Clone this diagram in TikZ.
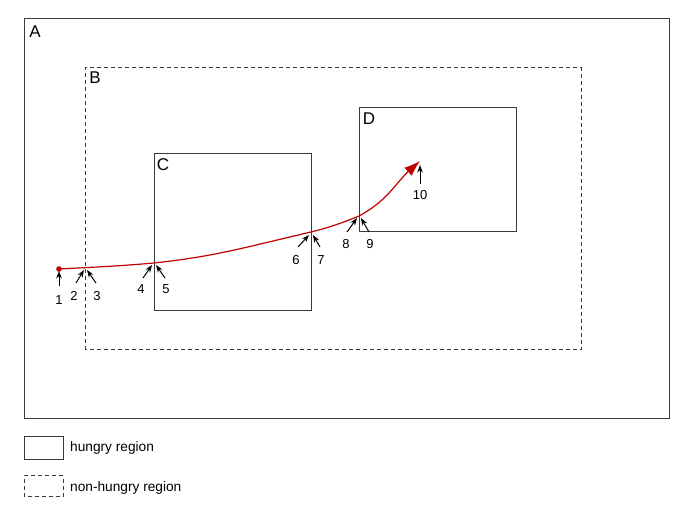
\documentclass[tikz,border=0pt]{standalone}
\usepackage{fontspec}
\setmainfont{Liberation Sans}
\usetikzlibrary{arrows.meta}
\definecolor{pathred}{HTML}{C00000}
\definecolor{boxgray}{HTML}{3A3A3A}
\begin{document}
\begin{tikzpicture}[x=1pt,y=1pt,
  region/.style={draw=boxgray, line width=1pt},
  nonregion/.style={draw=boxgray, line width=1pt, dash pattern=on 4pt off 3pt},
  letter/.style={anchor=center, inner sep=0pt, font=\fontsize{17}{20}\selectfont},
  num/.style={anchor=center, inner sep=0pt, font=\fontsize{13}{15}\selectfont},
  legtext/.style={anchor=west, inner sep=0pt, font=\fontsize{13.7}{16}\selectfont},
  numarrow/.style={draw=black, line width=1pt, -{Stealth[length=7.5pt,width=5.5pt]}},
  track/.style={draw=pathred, line width=1.2pt, -{Latex[length=16pt,width=11pt]}}
]
\useasboundingbox (0,0) rectangle (694,517);
% regions
\draw[region] (24,98) rectangle (669,498);
\draw[nonregion] (85,167) rectangle (581,449);
\draw[region] (154,206) rectangle (311,363);
\draw[region] (359,285) rectangle (516,409);
\node[letter] (lA) at (35,485) {A};
\node[letter] (lB) at (95,439) {B};
\node[letter] (lC) at (163,352) {C};
\node[letter] (lD) at (369,398) {D};
% path
\coordinate (p1) at (59,248);
\coordinate (p4) at (154,254);
\coordinate (p6) at (311,285);
\coordinate (p8) at (359,301);
\coordinate (p10) at (420,356);
\draw[track] (p1) to[out=3,in=185] (p4) to[out=6,in=193] (p6) to[out=14,in=202] (p8) to[out=28,in=222] (p10);
\fill[pathred] (p1) circle (2.8pt);
% labels
\node[num] (n1) at (59,217) {1};
\node[num] (n2) at (74,221) {2};
\node[num] (n3) at (97,221) {3};
\node[num] (n4) at (141,228) {4};
\node[num] (n5) at (166,228) {5};
\node[num] (n6) at (296,257) {6};
\node[num] (n7) at (321,257) {7};
\node[num] (n8) at (346,273) {8};
\node[num] (n9) at (370,273) {9};
\node[num] (n10) at (420,322) {10};
\coordinate (s1) at (59,231); \coordinate (t1) at (59,246);
\coordinate (s2) at (76,234); \coordinate (t2) at (84,247);
\coordinate (s3) at (96,234); \coordinate (t3) at (87,247);
\coordinate (s4) at (143,239); \coordinate (t4) at (152,252);
\coordinate (s5) at (165,239); \coordinate (t5) at (156,252);
\coordinate (s6) at (298,270); \coordinate (t6) at (309,282);
\coordinate (s7) at (320,270); \coordinate (t7) at (313,282);
\coordinate (s8) at (347,285); \coordinate (t8) at (357,299);
\coordinate (s9) at (369,285); \coordinate (t9) at (361,299);
\coordinate (s10) at (420,333); \coordinate (t10) at (420,352);
\foreach \i in {1,...,10} {\draw[numarrow] (s\i) -- (t\i);}
% legend
\draw[region] (24,57) rectangle (63,80);
\draw[nonregion] (24,20) rectangle (63,41);
\node[legtext] (leg1) at (70,69) {hungry region};
\node[legtext] (leg2) at (70,29) {non-hungry region};
\end{tikzpicture}
\end{document}
